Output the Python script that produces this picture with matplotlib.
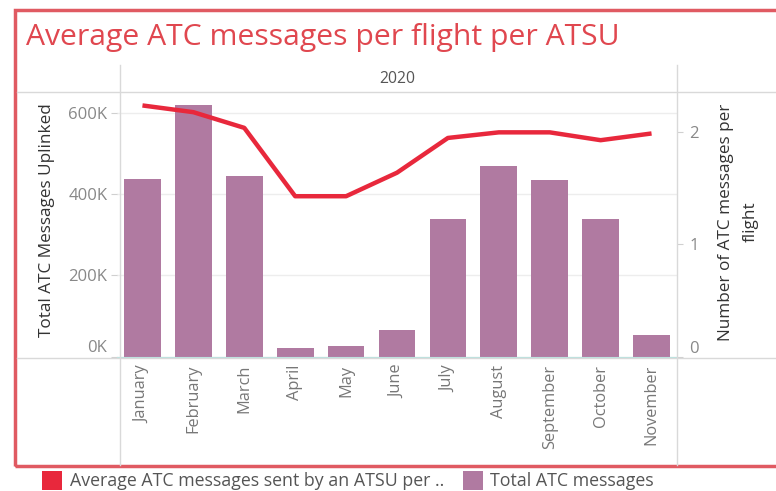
import matplotlib
matplotlib.use("Agg")
import matplotlib.pyplot as plt
from matplotlib.lines import Line2D
from matplotlib.patches import Rectangle
from matplotlib.ticker import FuncFormatter, FixedLocator

plt.rcParams['font.family'] = ['Open Sans', 'DejaVu Sans']

months = ["January", "February", "March", "April", "May", "June",
          "July", "August", "September", "October", "November"]
total_msgs = [437000, 620000, 444000, 20000, 27000, 66000,
              340000, 470000, 435000, 340000, 52000]
avg_per_flight = [2.24, 2.18, 2.04, 1.43, 1.43, 1.64,
                  1.95, 2.00, 2.00, 1.93, 1.99]
left_ticks = [0, 200000, 400000, 600000]
right_ticks = [0, 1, 2]
year_label = "2020"

W, H = 776, 491
fig = plt.figure(figsize=(W / 100, H / 100), dpi=100)

def fx(x):
    return x / W

def fy(y):
    return 1 - y / H

BAR = "#b07aa1"
LINE = "#e8283c"
BORDER = "#e05a62"
GRID = "#d9d9d9"

L, R, T, B = 117, 677, 92, 356.5
ax = fig.add_axes([fx(L), fy(B), (R - L) / W, (B - T) / H])
x = list(range(len(months)))
ax.bar(x, total_msgs, width=0.72, color=BAR, zorder=2)
ax.set_xlim(-0.5, len(months) - 0.5)
ax.set_ylim(0, 651700)
ax.yaxis.set_major_locator(FixedLocator(left_ticks))
ax.yaxis.set_major_formatter(FuncFormatter(lambda v, p: f"{int(v/1000)}K"))
ax.grid(axis='y', color="#ededed", linewidth=1, zorder=0)
ax.set_axisbelow(True)
for s in ax.spines.values():
    s.set_visible(False)
ax.spines['bottom'].set_visible(True)
ax.spines['bottom'].set_color("#b8e4e0")
ax.tick_params(axis='y', length=4, color="#d0d0d0", labelsize=12,
               labelcolor="#888888", pad=3)
ax.set_xticks(x)
ax.set_xticklabels(months, rotation=90, fontsize=11.8, color="#777777")
ax.tick_params(axis='x', length=0, pad=6)
ax.set_ylabel("Total ATC Messages Uplinked", fontsize=12.3, color="#333333")
ax.yaxis.set_label_coords((55 - L) / (R - L), (B - 220) / (B - T))

ax2 = ax.twinx()
ax2.plot(x, avg_per_flight, color=LINE, linewidth=3.2, zorder=3,
         solid_capstyle='butt')
ax2.set_ylim(0, 2.36)
ax2.yaxis.set_major_locator(FixedLocator(right_ticks))
for s in ax2.spines.values():
    s.set_visible(False)
ax2.tick_params(axis='y', length=4, color="#d0d0d0", labelsize=12,
                labelcolor="#888888", pad=5)
ax2.set_ylabel("Number of ATC messages per\nflight", fontsize=12.3,
               color="#333333", linespacing=1.75)
ax2.yaxis.set_label_coords((718 - L) / (R - L), (B - 222) / (B - T))

fig.canvas.draw()
for lab in ax.get_yticklabels():
    if lab.get_text() == "0K":
        lab.set_va('bottom')
for lab in ax2.get_yticklabels():
    if lab.get_text() == "0":
        lab.set_va('bottom')

# Table lines
def hline(y, x0, x1, color=GRID, lw=1):
    fig.add_artist(Line2D([fx(x0), fx(x1)], [fy(y), fy(y)],
                          transform=fig.transFigure, color=color, lw=lw))

def vline(x_, y0, y1, color=GRID, lw=1):
    fig.add_artist(Line2D([fx(x_), fx(x_)], [fy(y0), fy(y1)],
                          transform=fig.transFigure, color=color, lw=lw))

hline(T, 17, 776)
hline(357.5, 17, 776)
vline(L + 3, 65, 465)
vline(R, 65, 465)

fig.text(fx((L + R) / 2), fy(79), year_label, ha='center', va='center',
         fontsize=11.3, color="#555555")

fig.text(fx(26), fy(38), "Average ATC messages per flight per ATSU",
         ha='left', va='center', fontsize=21.7, color="#e0474f")

# Border
fig.add_artist(Rectangle((fx(15), fy(466)), fx(800) - fx(15),
                         fy(10) - fy(466), transform=fig.transFigure,
                         fill=False, edgecolor=BORDER, lw=2.5))

# Legend
fig.add_artist(Rectangle((fx(42), fy(490)), fx(20), fy(471) - fy(490),
                         transform=fig.transFigure, color=LINE, lw=0))
fig.text(fx(70), fy(481), "Average ATC messages sent by an ATSU per ..",
         ha='left', va='center', fontsize=12.8, color="#555555")
fig.add_artist(Rectangle((fx(463), fy(490)), fx(20), fy(471) - fy(490),
                         transform=fig.transFigure, color=BAR, lw=0))
fig.text(fx(490), fy(481), "Total ATC messages",
         ha='left', va='center', fontsize=12.8, color="#555555")

fig.savefig("out.png", dpi=100)
